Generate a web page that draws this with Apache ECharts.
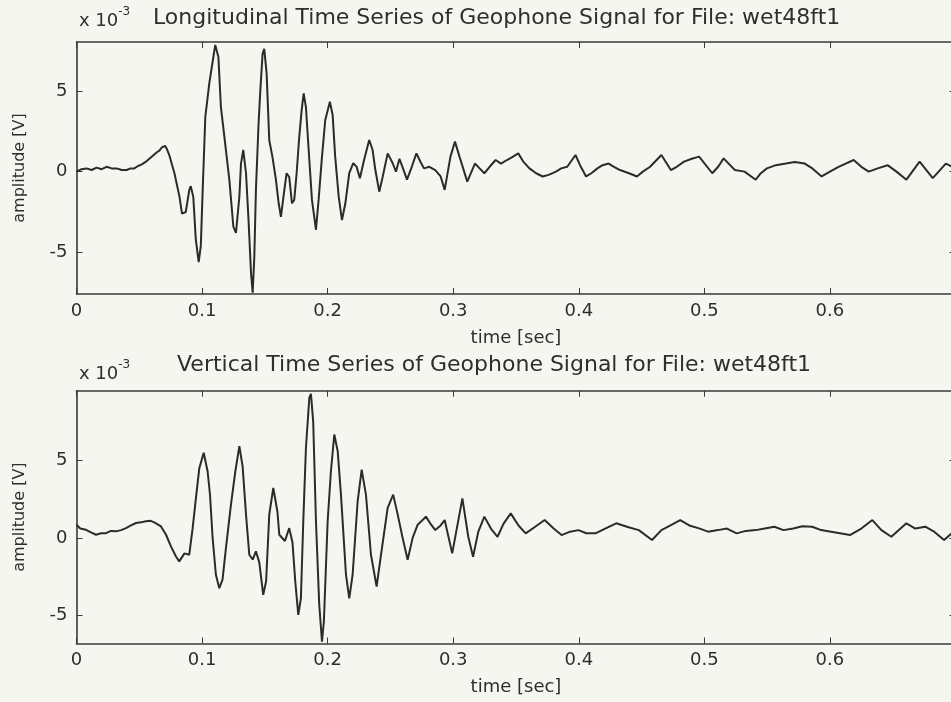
<!DOCTYPE html>
<html><head><meta charset="utf-8">
<script src="https://cdn.jsdelivr.net/npm/echarts@6/dist/echarts.min.js"></script>
<style>html,body{margin:0;padding:0;background:#f6f6f1;overflow:hidden;width:951px;height:702px}#c{width:960px;height:702px}</style>
</head><body><div id="c"></div>
<script>
// Longitudinal (top) trace: time [s] and amplitude [x1e-3 V]
const tTop = [0,0.004,0.008,0.012,0.016,0.020,0.024,0.028,0.032,0.036,0.040,0.043,0.046,0.049,0.052,0.055,0.058,0.061,0.064,0.066,0.068,0.0705,0.072,0.074,0.078,0.082,0.084,0.087,0.0898,0.091,0.093,0.095,0.0973,0.099,0.1005,0.1026,0.1058,0.109,0.1105,0.113,0.115,0.1177,0.1217,0.1249,0.127,0.1297,0.131,0.1328,0.135,0.137,0.139,0.1403,0.1416,0.1429,0.145,0.1464,0.1482,0.1495,0.1514,0.1535,0.156,0.1588,0.161,0.1628,0.1649,0.1673,0.1694,0.1716,0.1734,0.1753,0.1774,0.1793,0.1809,0.1827,0.1849,0.1875,0.1907,0.1928,0.1955,0.1981,0.2018,0.204,0.206,0.2088,0.2114,0.2141,0.2172,0.2204,0.223,0.2257,0.229,0.2331,0.2358,0.238,0.2411,0.2438,0.2478,0.2518,0.2544,0.2572,0.2600,0.2632,0.2670,0.2707,0.2740,0.2767,0.2810,0.2857,0.290,0.2932,0.2978,0.3014,0.305,0.3112,0.3173,0.3210,0.3248,0.3290,0.3338,0.3380,0.3428,0.3470,0.3518,0.3560,0.3607,0.3660,0.3713,0.3760,0.3818,0.3860,0.3908,0.3974,0.4010,0.4058,0.4100,0.4148,0.4190,0.4238,0.4280,0.4328,0.4400,0.4463,0.4510,0.4568,0.4658,0.4733,0.4780,0.4838,0.4900,0.4958,0.5063,0.5110,0.5153,0.5243,0.532,0.5409,0.5450,0.5498,0.5570,0.5649,0.5720,0.5799,0.5860,0.5934,0.6000,0.6069,0.6189,0.6250,0.6309,0.6380,0.6459,0.6530,0.6609,0.6714,0.6819,0.6923,0.700];
const vTop = [0.0,0.15,0.2,0.1,0.25,0.15,0.3,0.2,0.2,0.1,0.1,0.2,0.2,0.35,0.45,0.6,0.8,1.0,1.2,1.3,1.5,1.6,1.4,1.0,-0.1,-1.55,-2.6,-2.5,-1.15,-0.9,-1.55,-4.2,-5.6,-4.6,-1.1,3.4,5.5,7.1,7.85,7.1,4.0,2.2,-0.5,-3.4,-3.8,-1.55,0.5,1.35,-0.1,-3.0,-6.3,-7.5,-5.3,-1.1,3.0,5.05,7.3,7.6,6.1,1.96,0.93,-0.5,-1.96,-2.8,-1.5,-0.1,-0.33,-1.96,-1.75,-0.1,2.17,3.8,4.85,4.0,1.34,-1.75,-3.6,-1.75,0.93,3.2,4.33,3.5,0.93,-1.55,-3.0,-1.96,-0.1,0.52,0.31,-0.41,0.72,1.96,1.34,0.1,-1.24,-0.33,1.13,0.52,0.0,0.8,0.2,-0.5,0.3,1.13,0.6,0.2,0.3,0.1,-0.3,-1.13,0.93,1.86,0.93,-0.62,0.5,0.2,-0.1,0.3,0.72,0.5,0.72,0.9,1.13,0.6,0.2,-0.1,-0.3,-0.2,0.0,0.2,0.3,1.03,0.4,-0.3,-0.1,0.2,0.4,0.5,0.3,0.1,-0.1,-0.3,0.0,0.3,1.03,0.1,0.3,0.62,0.8,0.93,-0.1,0.3,0.82,0.1,0.0,-0.5,-0.1,0.2,0.4,0.5,0.6,0.5,0.2,-0.3,0.0,0.3,0.72,0.3,0.0,0.2,0.4,0.0,-0.5,0.62,-0.4,0.5,0.2];
// Vertical (bottom) trace
const tBot = [0,0.003,0.0076,0.0115,0.0155,0.0195,0.0235,0.0275,0.0315,0.0355,0.0394,0.0434,0.0474,0.0515,0.0553,0.0590,0.0619,0.0673,0.0713,0.0752,0.0792,0.0818,0.086,0.0898,0.0925,0.0951,0.0978,0.1013,0.1044,0.1063,0.1084,0.111,0.1137,0.1163,0.119,0.123,0.1265,0.1297,0.1323,0.135,0.1376,0.1403,0.1429,0.1456,0.1487,0.151,0.1535,0.1567,0.16,0.1615,0.166,0.1694,0.172,0.1742,0.1766,0.1787,0.1806,0.1827,0.1854,0.1867,0.1885,0.1907,0.1933,0.1955,0.197,0.2,0.2026,0.2053,0.208,0.2106,0.2146,0.2172,0.2199,0.2239,0.2271,0.2305,0.2345,0.239,0.2425,0.2478,0.2522,0.2558,0.2597,0.2637,0.2677,0.2717,0.2750,0.2783,0.2820,0.2857,0.2900,0.2932,0.2992,0.3073,0.312,0.3158,0.3200,0.3248,0.3300,0.3353,0.3400,0.3458,0.3520,0.3577,0.3650,0.3728,0.3800,0.3863,0.3930,0.3998,0.4060,0.4133,0.4210,0.4298,0.4390,0.4478,0.4583,0.4658,0.4730,0.4808,0.4880,0.4958,0.5030,0.5107,0.5180,0.5257,0.5330,0.5409,0.5480,0.5558,0.5630,0.5708,0.5780,0.5859,0.5930,0.6009,0.6080,0.6159,0.6250,0.6338,0.6410,0.6489,0.6609,0.6680,0.6759,0.6830,0.6909,0.700];
const vBot = [0.85,0.6,0.52,0.35,0.2,0.3,0.3,0.45,0.42,0.5,0.63,0.8,0.96,1.0,1.07,1.1,1.0,0.74,0.2,-0.55,-1.2,-1.52,-1.0,-1.09,0.63,2.57,4.5,5.49,4.3,2.8,0.0,-2.38,-3.25,-2.7,-0.66,2.14,4.3,5.92,4.6,1.5,-1.09,-1.4,-0.87,-1.6,-3.68,-2.8,1.5,3.22,1.7,0.2,-0.2,0.63,-0.3,-2.8,-4.97,-3.9,1.07,5.8,9.04,9.3,7.5,1.07,-4.3,-6.7,-5.4,1.07,4.3,6.67,5.6,2.79,-2.38,-3.9,-2.38,2.36,4.4,2.79,-1.09,-3.14,-1.09,1.93,2.79,1.5,0.0,-1.41,0.0,0.85,1.1,1.37,0.9,0.5,0.8,1.15,-1.0,2.55,0.07,-1.22,0.4,1.37,0.6,0.07,0.9,1.58,0.8,0.29,0.7,1.15,0.6,0.18,0.4,0.5,0.3,0.29,0.6,0.94,0.7,0.5,-0.14,0.5,0.8,1.15,0.8,0.61,0.4,0.5,0.6,0.29,0.45,0.5,0.6,0.72,0.5,0.61,0.75,0.72,0.5,0.4,0.3,0.18,0.6,1.15,0.5,0.07,0.94,0.6,0.72,0.4,-0.14,0.5];
const xTicks = [0,0.1,0.2,0.3,0.4,0.5,0.6];
const yTicks = [-5,0,5];
const topTitle = 'Longitudinal Time Series of Geophone Signal for File: wet48ft1';
const botTitle = 'Vertical Time Series of Geophone Signal for File: wet48ft1';
const xName = 'time [sec]';
const yName = 'amplitude [V]';

const FONT = 'DejaVu Sans';
const TXT = '#2e2e2e';
const AX = '#3a3a3a';
const LINE = '#2b2b2b';

function pairs(t, v) { return t.map((x, i) => [x, v[i]]); }

function xAxes(g) {
  return [
    {type:'value', gridIndex:g, min:0, max:0.7, position:'bottom',
     axisLine:{show:true,onZero:false,lineStyle:{color:AX,width:1.6}},
     axisTick:{show:true,inside:true,length:6,customValues:xTicks,lineStyle:{color:AX,width:1}},
     axisLabel:{customValues:xTicks,color:TXT,fontFamily:FONT,fontSize:18,margin:8,formatter:v=>String(v)},
     splitLine:{show:false},
     name:xName,nameLocation:'middle',nameGap:35,nameTextStyle:{color:TXT,fontFamily:FONT,fontSize:18}},
    {type:'value', gridIndex:g, min:0, max:0.7, position:'top',
     axisLine:{show:true,onZero:false,lineStyle:{color:AX,width:1.6}},
     axisTick:{show:true,inside:true,length:6,customValues:xTicks,lineStyle:{color:AX,width:1}},
     axisLabel:{show:false}, splitLine:{show:false}}
  ];
}
function yAxes(g, mn, mx) {
  return [
    {type:'value', gridIndex:g, min:mn, max:mx, position:'left',
     axisLine:{show:true,onZero:false,lineStyle:{color:AX,width:1.6}},
     axisTick:{show:true,inside:true,length:6,customValues:yTicks,lineStyle:{color:AX,width:1}},
     axisLabel:{customValues:yTicks,color:TXT,fontFamily:FONT,fontSize:18,margin:9},
     splitLine:{show:false},
     name:yName,nameLocation:'middle',nameRotate:90,nameGap:49,nameTextStyle:{color:TXT,fontFamily:FONT,fontSize:16}},
    {type:'value', gridIndex:g, min:mn, max:mx, position:'right',
     axisLine:{show:true,onZero:false,lineStyle:{color:AX,width:1.6}},
     axisTick:{show:true,inside:true,length:6,customValues:yTicks,lineStyle:{color:AX,width:1}},
     axisLabel:{show:false}, splitLine:{show:false}}
  ];
}
const expRich = {
  a:{fontFamily:FONT,fontSize:18,fontWeight:'normal',color:TXT,verticalAlign:'bottom',lineHeight:24},
  b:{fontFamily:FONT,fontSize:12,fontWeight:'normal',color:TXT,verticalAlign:'top',lineHeight:24}
};

const chart = echarts.init(document.getElementById('c'), null, {renderer:'canvas'});
chart.setOption({
  animation:false,
  backgroundColor:'#f6f6f1',
  title:[
    {text:'{a|x 10}{b|-3}', left:79, top:6, padding:0, textStyle:{fontWeight:'normal',rich:expRich}},
    {text:topTitle, left:153, top:7, padding:0, textStyle:{fontFamily:FONT,fontSize:22,fontWeight:'normal',color:TXT}},
    {text:'{a|x 10}{b|-3}', left:79, top:359, padding:0, textStyle:{fontWeight:'normal',rich:expRich}},
    {text:botTitle, left:177, top:354, padding:0, textStyle:{fontFamily:FONT,fontSize:22,fontWeight:'normal',color:TXT}}
  ],
  grid:[
    {left:76.5, top:42, width:879, height:252},
    {left:76.5, top:390.7, width:879, height:252.8}
  ],
  xAxis:[...xAxes(0), ...xAxes(1)],
  yAxis:[...yAxes(0,-7.58,8.03), ...yAxes(1,-6.82,9.5)],
  series:[
    {type:'line', xAxisIndex:0, yAxisIndex:0, data:pairs(tTop,vTop), showSymbol:false, symbol:'none',
     lineStyle:{color:LINE,width:2}},
    {type:'line', xAxisIndex:2, yAxisIndex:2, data:pairs(tBot,vBot), showSymbol:false, symbol:'none',
     lineStyle:{color:LINE,width:2}}
  ]
});
</script></body></html>
